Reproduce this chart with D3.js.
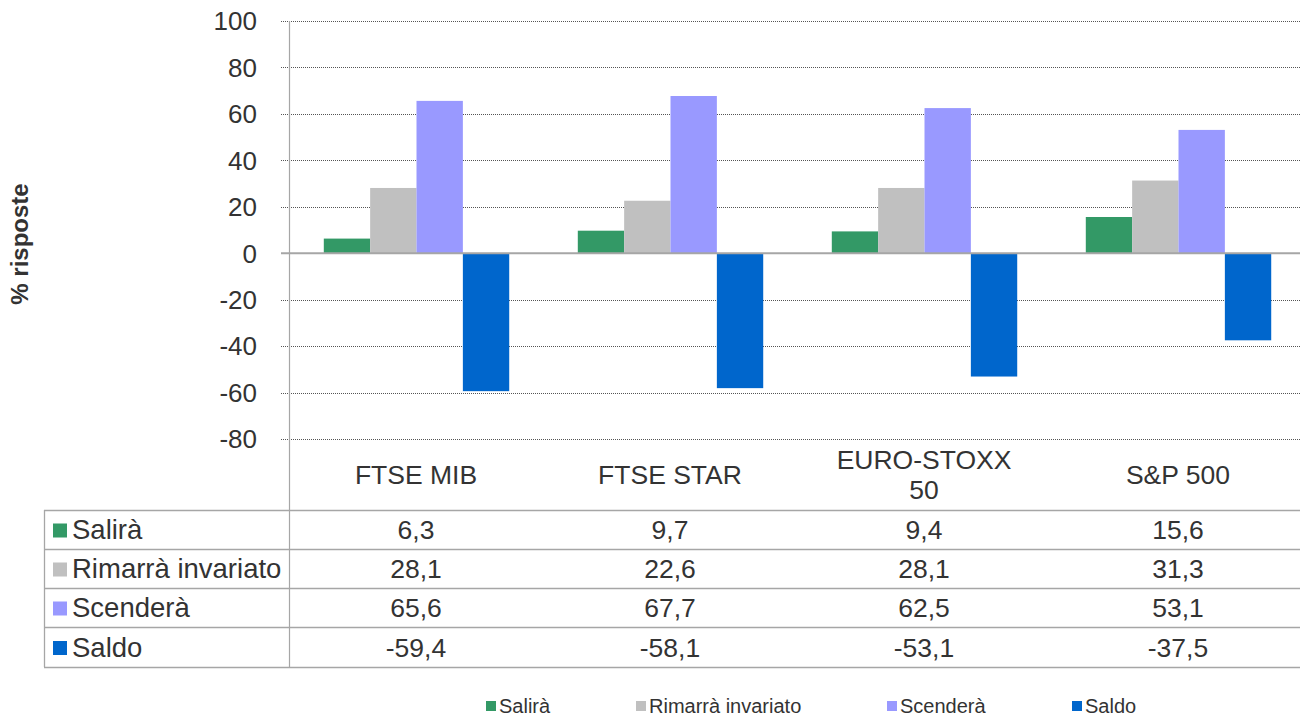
<!DOCTYPE html>
<html>
<head>
<meta charset="utf-8">
<script src="https://cdn.jsdelivr.net/npm/d3@7"></script>
<style>
  body { margin: 0; background: #fff; }
  svg { font-family: "Liberation Sans", Arial, sans-serif; }
</style>
</head>
<body>
<div id="chart"></div>
<script>
var width = 1300,
    height = 716;

// data
var categories = ["FTSE MIB", "FTSE STAR", "EURO-STOXX 50", "S&P 500"];
var seriesNames = ["Salirà", "Rimarrà invariato", "Scenderà", "Saldo"];
var salira = [6.3, 9.7, 9.4, 15.6];
var invariato = [28.1, 22.6, 28.1, 31.3];
var scendera = [65.6, 67.7, 62.5, 53.1];
var saldo = [-59.4, -58.1, -53.1, -37.5];
var yTicks = [100, 80, 60, 40, 20, 0, -20, -40, -60, -80];
var colors = ["#339966", "#c0c0c0", "#9999ff", "#0066cc"];

var series = [salira, invariato, scendera, saldo];

var plotLeft = 289, plotRight = 1300, plotTop = 21, plotBottom = 439;

var svg = d3.select("#chart").append("svg")
  .attr("width", width)
  .attr("height", height);

// the last category runs a little past the right edge of the picture
var x = d3.scaleBand().domain(categories).range([plotLeft, 1305]);
var xs = d3.scaleBand().domain(d3.range(4))
  .range([x.bandwidth() * 0.137, x.bandwidth() * 0.867]);
var y = d3.scaleLinear().domain([-80, 100]).range([plotBottom, plotTop]);

// grid lines
svg.append("g").selectAll("line")
  .data(yTicks.filter(function(d) { return d !== 0; }))
  .enter().append("line")
  .attr("x1", plotLeft - 8).attr("x2", plotRight)
  .attr("y1", function(d) { return Math.round(y(d)) + 0.5; })
  .attr("y2", function(d) { return Math.round(y(d)) + 0.5; })
  .attr("stroke", "#555")
  .attr("stroke-dasharray", "1,1")
  .attr("stroke-width", 1);

// y labels
svg.append("g").selectAll("text")
  .data(yTicks)
  .enter().append("text")
  .attr("x", 257)
  .attr("y", function(d) { return y(d); })
  .attr("dy", "0.36em")
  .attr("text-anchor", "end")
  .attr("font-size", 26)
  .attr("fill", "#333")
  .text(function(d) { return d; });

// bars
var groups = svg.append("g").selectAll("g")
  .data(categories)
  .enter().append("g")
  .attr("transform", function(d) { return "translate(" + x(d) + ",0)"; });

groups.selectAll("rect")
  .data(function(d, i) { return series.map(function(s, j) { return { v: s[i], k: j }; }); })
  .enter().append("rect")
  .attr("x", function(d) { return xs(d.k); })
  .attr("width", xs.bandwidth())
  .attr("y", function(d) { return y(Math.max(0, d.v)); })
  .attr("height", function(d) { return Math.abs(y(d.v) - y(0)); })
  .attr("fill", function(d) { return colors[d.k]; });

// zero line and axis
svg.append("line")
  .attr("x1", plotLeft - 8).attr("x2", plotRight)
  .attr("y1", y(0)).attr("y2", y(0))
  .attr("stroke", "#a6a6a6").attr("stroke-width", 2);

svg.append("line")
  .attr("x1", plotLeft + 0.5).attr("x2", plotLeft + 0.5)
  .attr("y1", plotTop).attr("y2", 667)
  .attr("stroke", "#a6a6a6").attr("stroke-width", 1.2);

// y title
svg.append("text")
  .attr("transform", "translate(28,244) rotate(-90)")
  .attr("text-anchor", "middle")
  .attr("font-size", 24)
  .attr("font-weight", "bold")
  .attr("fill", "#333")
  .text("% risposte");

// category labels
var catLabel = svg.append("g").selectAll("text")
  .data(categories)
  .enter().append("text")
  .attr("text-anchor", "middle")
  .attr("font-size", 26.5)
  .attr("fill", "#333");

catLabel.each(function(d) {
  var t = d3.select(this);
  var lines = d === "EURO-STOXX 50" ? ["EURO-STOXX", "50"] : [d];
  var y0 = lines.length > 1 ? 469 : 484;
  lines.forEach(function(l, i) {
    t.append("tspan").attr("x", x(d) + x.bandwidth() / 2).attr("y", y0 + i * 30).text(l);
  });
});

// data table
var rowY = [510, 549, 588, 627, 667];
svg.append("g").selectAll("line")
  .data(rowY)
  .enter().append("line")
  .attr("x1", 44).attr("x2", plotRight)
  .attr("y1", function(d) { return d + 0.5; }).attr("y2", function(d) { return d + 0.5; })
  .attr("stroke", "#a6a6a6").attr("stroke-width", 1.3);

svg.append("line")
  .attr("x1", 44.5).attr("x2", 44.5)
  .attr("y1", rowY[0]).attr("y2", rowY[4])
  .attr("stroke", "#a6a6a6").attr("stroke-width", 1.3);

var rows = svg.append("g").selectAll("g")
  .data(seriesNames)
  .enter().append("g")
  .attr("transform", function(d, i) { return "translate(0," + (rowY[i] + rowY[i + 1]) / 2 + ")"; });

rows.append("rect")
  .attr("x", 53).attr("y", -6).attr("width", 14).attr("height", 14)
  .attr("fill", function(d, i) { return colors[i]; });

rows.append("text")
  .attr("x", 72).attr("dy", "0.36em")
  .attr("font-size", 27.5).attr("fill", "#333")
  .text(function(d) { return d; });

rows.selectAll("text.val")
  .data(function(d, i) { return series[i]; })
  .enter().append("text")
  .attr("class", "val")
  .attr("x", function(d, j) { return x(categories[j]) + x.bandwidth() / 2; })
  .attr("dy", "0.36em")
  .attr("text-anchor", "middle")
  .attr("font-size", 26.5).attr("fill", "#333")
  .text(function(d) { return d.toFixed(1).replace(".", ","); });

// legend
var legendX = [486, 636, 887, 1072];
var legend = svg.append("g").selectAll("g")
  .data(seriesNames)
  .enter().append("g")
  .attr("transform", function(d, i) { return "translate(" + legendX[i] + ",706)"; });

legend.append("rect")
  .attr("x", 0).attr("y", -5).attr("width", 10).attr("height", 10)
  .attr("fill", function(d, i) { return colors[i]; });

legend.append("text")
  .attr("x", 13).attr("dy", "0.36em")
  .attr("font-size", 20).attr("fill", "#333")
  .text(function(d) { return d; });
</script>
</body>
</html>
